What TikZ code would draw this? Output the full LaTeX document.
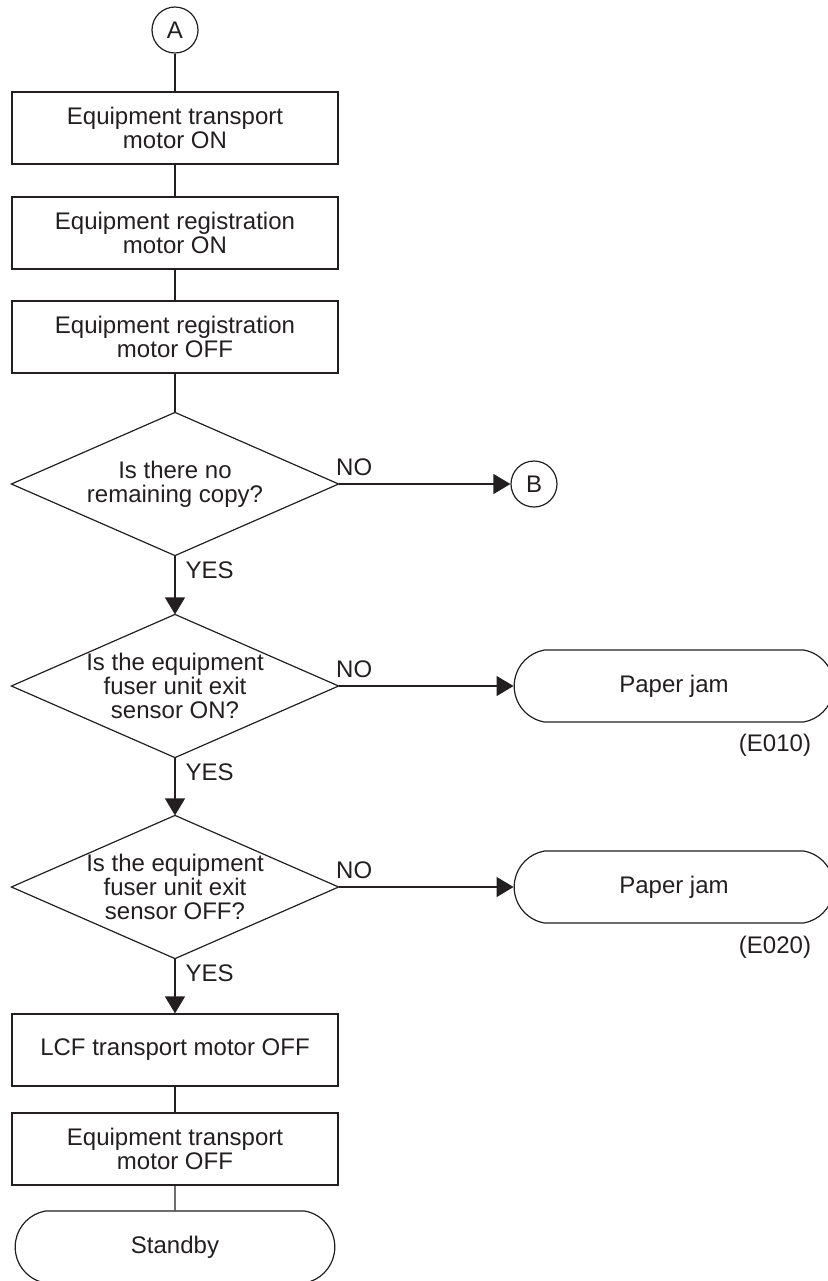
\documentclass[tikz,border=0pt]{standalone}
\usepackage{fontspec}
\setmainfont{Liberation Sans}
\usetikzlibrary{arrows.meta,shapes.misc}

\definecolor{ink}{HTML}{231F20}
\tikzset{
    box/.style={draw, rectangle, minimum width=163pt, minimum height=36pt, align=center},
    ask/.style={rectangle, minimum width=163pt, minimum height=71pt, inner sep=0pt, align=center},
    term/.style={draw, rounded rectangle, rounded rectangle arc length=160, minimum width=166.5pt, minimum height=36pt},
    conn/.style={draw, circle, minimum size=23pt, inner sep=0pt},
    flow/.style={-{Triangle[length=8.5pt, width=10pt]}},
    yes/.style={anchor=north west, inner sep=0pt},
    no/.style={anchor=base west, inner sep=0pt}
}

\begin{document}
\begin{tikzpicture}[x=0.5pt, y=-0.5pt, line width=0.6pt, color=ink, font=\fontsize{12}{12}\selectfont]
    \useasboundingbox (0, 0) rectangle (828, 1281);
    \clip (0, 0) rectangle (828, 1281);
    % Draw the start connector and the first boxes
    \node[conn] (A) at (175, 30) {A};
    \node[box] (trOn) at (175, 128) {Equipment transport\\motor ON};
    \node[box] (regOn) at (175, 233) {Equipment registration\\motor ON};
    \node[box] (regOff) at (175, 337) {Equipment registration\\motor OFF};
    % Draw the questions
    \node[ask] (q1) at (175, 484) {Is there no\\remaining copy?};
    \node[ask] (q2) at (175, 686) {Is the equipment\\fuser unit exit\\sensor ON?};
    \node[ask] (q3) at (175, 887) {Is the equipment\\fuser unit exit\\sensor OFF?};
    \foreach \q in {q1, q2, q3} {
        \draw (\q.north) -- (\q.east) -- (\q.south) -- (\q.west) -- cycle;
    }
    % Draw the last boxes
    \node[box] (lcfOff) at (175, 1050) {LCF transport motor OFF};
    \node[box] (trOff) at (175, 1149) {Equipment transport\\motor OFF};
    \node[term] (standby) at (175, 1247) {Standby};
    % Draw the exits on the right
    \node[conn] (B) at (534, 484) {B};
    \node[term] (jam1) at (674, 686) {Paper jam};
    \node[term] (jam2) at (674, 887) {Paper jam};
    \node (e1) at (775, 745) {(E010)};
    \node (e2) at (775, 947) {(E020)};
    % Draw the connectors
    \draw (A) -- (trOn);
    \draw (trOn) -- (regOn);
    \draw (regOn) -- (regOff);
    \draw (regOff) -- (q1.north);
    \draw[flow] (q1.south) -- (q2.north);
    \draw[flow] (q2.south) -- (q3.north);
    \draw[flow] (q3.south) -- (lcfOff);
    \draw (lcfOff) -- (trOff);
    \draw (trOff) -- (standby);
    \draw[flow] (q1.east) -- (B);
    \draw[flow] (q2.east) -- (jam1);
    \draw[flow] (q3.east) -- (jam2);
    % Add the YES and NO labels
    \foreach \q in {q1, q2, q3} {
        \node[yes] (yes-\q) at ([xshift=5pt, yshift=-3pt]\q.south) {YES};
        \node[no] (no-\q) at ([xshift=-1.5pt, yshift=4.5pt]\q.east) {NO};
    }
\end{tikzpicture}
\end{document}
